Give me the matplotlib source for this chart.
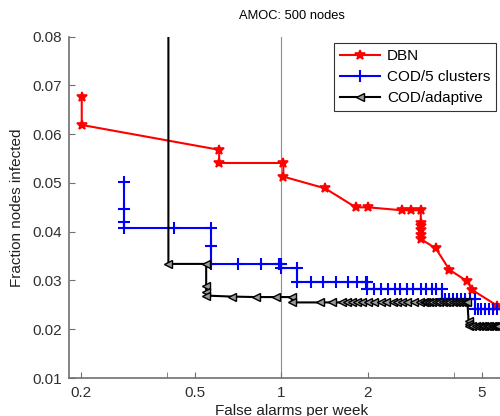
import matplotlib
matplotlib.use("Agg")
import matplotlib.pyplot as plt
from matplotlib.ticker import FixedLocator, FixedFormatter, NullFormatter

plt.rcParams['font.family'] = ['Liberation Sans', 'DejaVu Sans']

# DBN
dbn_x = [0.2016, 0.2016, 0.607, 0.607, 1.016, 1.016, 1.42, 1.816, 2.01, 2.63, 2.84, 3.06,
         3.06, 3.06, 3.06, 3.06, 3.06, 3.45, 3.85, 4.45, 4.61, 5.66]
dbn_y = [0.0677, 0.0619, 0.0568, 0.0541, 0.0541, 0.0513, 0.0489, 0.0450, 0.0450, 0.0444, 0.0444, 0.0444,
         0.0418, 0.0411, 0.0404, 0.0393, 0.0385, 0.0366, 0.0322, 0.0298, 0.0281, 0.0248]

# COD/5 clusters
cod5_x = [0.283, 0.283, 0.283, 0.283, 0.423, 0.569, 0.569, 0.569, 0.705, 0.848, 0.984, 1.0,
          1.0, 1.13, 1.13, 1.27, 1.40, 1.55, 1.70, 1.83, 1.97, 1.99,
          1.99, 2.11, 2.22, 2.35, 2.48, 2.59, 2.73, 2.88, 3.07, 3.20, 3.34, 3.47, 3.62,
          3.62, 3.72, 3.85, 3.97, 4.10, 4.24, 4.38, 4.53, 4.72,
          4.72, 4.85, 4.98, 5.12, 5.27, 5.45, 5.63]
cod5_y = [0.0503, 0.0446, 0.0419, 0.0407, 0.0407, 0.0407, 0.0371, 0.0333, 0.0333, 0.0333, 0.0333, 0.0333,
          0.0326, 0.0326, 0.0296, 0.0296, 0.0296, 0.0296, 0.0296, 0.0296, 0.0296, 0.0296,
          0.0283, 0.0283, 0.0283, 0.0283, 0.0283, 0.0283, 0.0283, 0.0283, 0.0283, 0.0283, 0.0283, 0.0283, 0.0283,
          0.0263, 0.0263, 0.0263, 0.0263, 0.0263, 0.0263, 0.0263, 0.0263, 0.0263,
          0.0242, 0.0242, 0.0242, 0.0242, 0.0242, 0.0242, 0.0242]

# COD/adaptive
coda_x = [0.404, 0.404, 0.547, 0.547, 0.547, 0.547, 0.672, 0.816, 0.958, 1.087,
          1.087, 1.36, 1.50, 1.62, 1.69, 1.76, 1.83, 1.91, 2.00, 2.10, 2.22, 2.32, 2.44, 2.53,
          2.64, 2.75, 2.90, 3.05, 3.13, 3.20, 3.27, 3.35, 3.45, 3.55, 3.65, 3.75, 3.85, 3.95,
          4.05, 4.15, 4.25, 4.35, 4.45,
          4.49, 4.49, 4.49, 4.60, 4.75, 4.90, 5.00, 5.10, 5.20, 5.30, 5.40, 5.50, 5.60, 5.70]
coda_y = [0.13, 0.0334, 0.0334, 0.0288, 0.0277, 0.0269, 0.0267, 0.0266, 0.0266, 0.0266,
          0.0255, 0.0255, 0.0255, 0.0255, 0.0255, 0.0255, 0.0255, 0.0255, 0.0255, 0.0255, 0.0255, 0.0255, 0.0255, 0.0255,
          0.0255, 0.0255, 0.0255, 0.0255, 0.0255, 0.0255, 0.0255, 0.0255, 0.0255, 0.0255, 0.0255, 0.0255, 0.0255, 0.0255,
          0.0255, 0.0255, 0.0255, 0.0255, 0.0255,
          0.0216, 0.0211, 0.0206, 0.0206, 0.0206, 0.0206, 0.0206, 0.0206, 0.0206, 0.0206, 0.0206, 0.0206, 0.0206, 0.0206]

xticks = [0.2, 0.5, 1, 2, 5]
xtick_labels = ['0.2', '0.5', '1', '2', '5']
xminor = [0.4, 4]
yticks = [0.01, 0.02, 0.03, 0.04, 0.05, 0.06, 0.07, 0.08]
ytick_labels = ['0.01', '0.02', '0.03', '0.04', '0.05', '0.06', '0.07', '0.08']

fig = plt.figure(figsize=(5.0, 4.16), dpi=100)
ax = fig.add_axes([69/500, 1 - 378/416, 445.7/500, (378 - 36.7)/416])

ax.axvline(1.0, color='#8c8c8c', lw=0.8, zorder=1)

ax.plot(dbn_x, dbn_y, color='red', lw=1.5, marker='*', ms=7, mew=1.2, label='DBN', zorder=3)
ax.plot(cod5_x, cod5_y, color='blue', lw=1.5, marker='+', ms=8, mew=1.5, label='COD/5 clusters', zorder=3)
ax.plot(coda_x, coda_y, color='black', lw=1.5, marker='<', ms=6, mew=1.0, mfc='#9a9a9a',
        mec='black', label='COD/adaptive', zorder=4)

ax.set_xscale('log')
ax.set_xlim(0.182, 6.5)
ax.set_ylim(0.01, 0.08)
ax.xaxis.set_major_locator(FixedLocator(xticks))
ax.xaxis.set_major_formatter(FixedFormatter(xtick_labels))
ax.xaxis.set_minor_locator(FixedLocator(xminor))
ax.xaxis.set_minor_formatter(NullFormatter())
ax.set_yticks(yticks)
ax.set_yticklabels(ytick_labels)

for s in ['top', 'right']:
    ax.spines[s].set_visible(False)
for s in ['left', 'bottom']:
    ax.spines[s].set_color('#707070')
    ax.spines[s].set_linewidth(1.2)

ax.tick_params(which='both', direction='in', length=4, color='#707070', labelsize=11, labelcolor='#303030')
ax.tick_params(axis='x', pad=6)
ax.tick_params(axis='y', pad=5)

ax.set_title('AMOC: 500 nodes', fontsize=9.3, pad=13)
ax.set_xlabel('False alarms per week', fontsize=11, labelpad=3, color='#202020')
ax.set_ylabel('Fraction nodes infected', fontsize=11, labelpad=6, color='#202020')

leg = ax.legend(loc='upper left', bbox_to_anchor=(334/500, 1 - 43/416), bbox_transform=fig.transFigure,
                fontsize=11, frameon=True, fancybox=False, handlelength=2.62, borderpad=0.4,
                labelspacing=0.45, handletextpad=0.44, borderaxespad=0)
leg.get_frame().set_edgecolor('black')
leg.get_frame().set_linewidth(0.8)

fig.savefig('out.png', dpi=100)
